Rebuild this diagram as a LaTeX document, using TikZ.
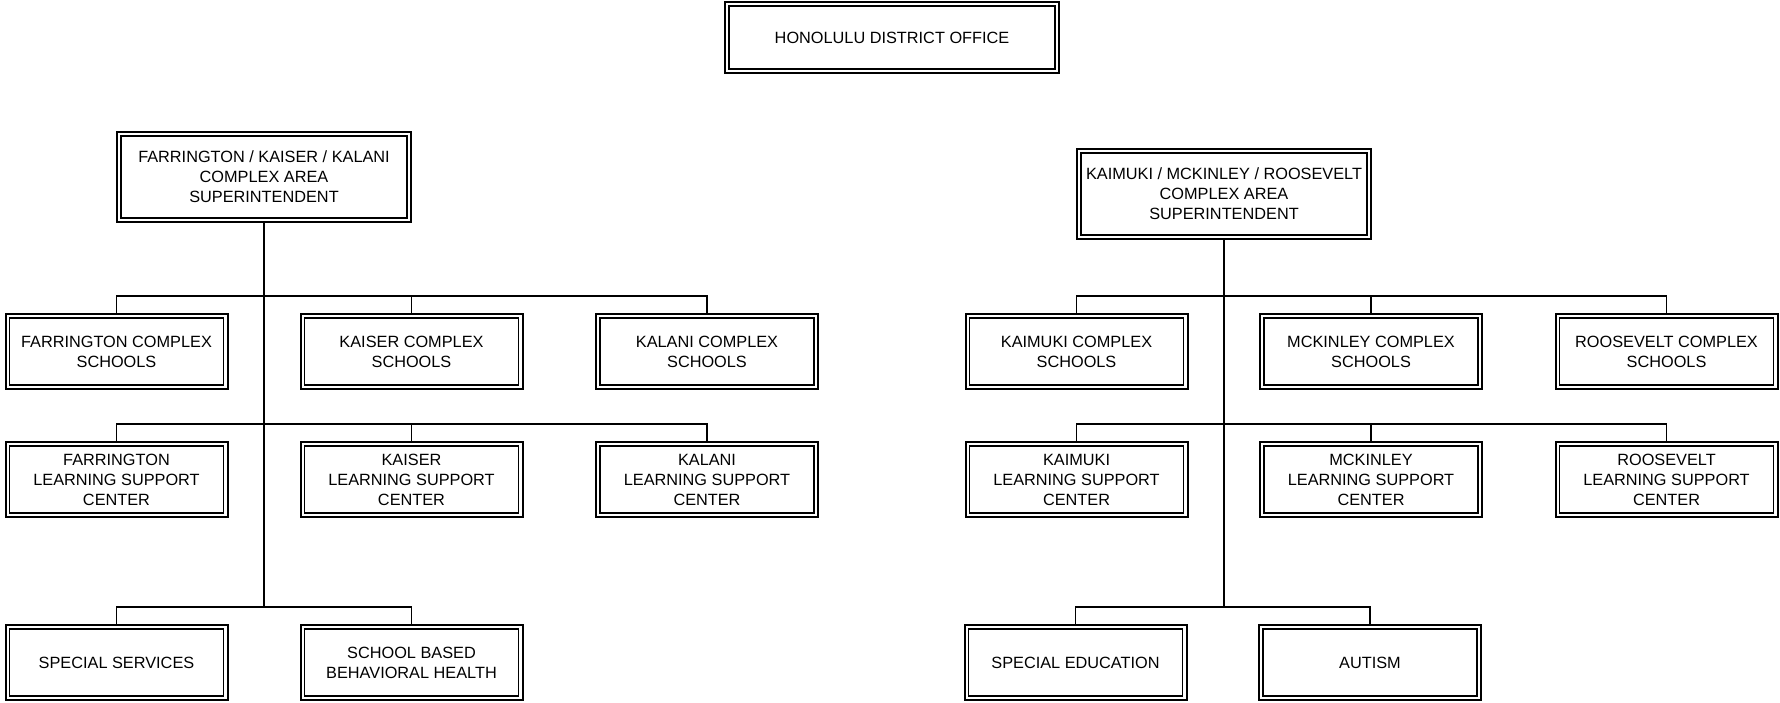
\documentclass[tikz,border=0pt]{standalone}
\usepackage{fontspec}
\setmainfont{Liberation Sans}
\usepackage{tikz}
\usetikzlibrary{positioning,calc}
\tikzset{
unit/.style={rectangle,draw=black,line width=1pt,
minimum width=111pt,minimum height=37.5pt,inner sep=2pt,
align=center,font=\fontsize{8.15}{10}\selectfont,
path picture={\draw[line width=0.55pt]
([shift={(2pt,-2pt)}]path picture bounding box.north west) rectangle
([shift={(-2pt,2pt)}]path picture bounding box.south east);}},
head/.style={unit,minimum width=147pt,minimum height=45pt},
link/.style={line width=0.8pt}
}
\begin{document}
\begin{tikzpicture}[x=0.5pt,y=0.5pt]
\useasboundingbox (0,0) rectangle (1780,-702);

		\node[unit,minimum width=167pt,minimum height=35.5pt] (hdo) at (892,-37.5) {HONOLULU DISTRICT OFFICE};

		% Farrington / Kaiser / Kalani
		\node[head] (fkk) at (264,-177) {FARRINGTON / KAISER / KALANI\\COMPLEX AREA\\SUPERINTENDENT};
		\node[unit] (farcs) at (116.5,-351.5) {FARRINGTON COMPLEX\\SCHOOLS};
		\node[unit] (kaics) at (411.5,-351.5) {KAISER COMPLEX\\SCHOOLS};
		\node[unit] (kalcs) at (707,-351.5) {KALANI COMPLEX\\SCHOOLS};
		\node[unit] (farlsc) at (116.5,-479.5) {FARRINGTON\\LEARNING SUPPORT\\CENTER};
		\node[unit] (kailsc) at (411.5,-479.5) {KAISER\\LEARNING SUPPORT\\CENTER};
		\node[unit] (kallsc) at (707,-479.5) {KALANI\\LEARNING SUPPORT\\CENTER};
		\node[unit] (spsv) at (116.5,-662.5) {SPECIAL SERVICES};
		\node[unit] (sbbh) at (411.5,-662.5) {SCHOOL BASED\\BEHAVIORAL HEALTH};
		\coordinate (fbot) at (264,-608);

		% Kaimuki / McKinley / Roosevelt
		\node[head] (kmr) at (1224,-194) {KAIMUKI / MCKINLEY / ROOSEVELT\\COMPLEX AREA\\SUPERINTENDENT};
		\node[unit] (kimcs) at (1076.5,-351.5) {KAIMUKI COMPLEX\\SCHOOLS};
		\node[unit] (mckcs) at (1371,-351.5) {MCKINLEY COMPLEX\\SCHOOLS};
		\node[unit] (roocs) at (1666.5,-351.5) {ROOSEVELT COMPLEX\\SCHOOLS};
		\node[unit] (kimlsc) at (1076.5,-479.5) {KAIMUKI\\LEARNING SUPPORT\\CENTER};
		\node[unit] (mcklsc) at (1371,-479.5) {MCKINLEY\\LEARNING SUPPORT\\CENTER};
		\node[unit] (roolsc) at (1666.5,-479.5) {ROOSEVELT\\LEARNING SUPPORT\\CENTER};
		\node[unit] (sped) at (1075.5,-662.5) {SPECIAL EDUCATION};
		\node[unit] (autism) at (1370,-662.5) {AUTISM};
		\coordinate (kbot) at (1224,-608);

		\draw[link] (fkk) -- (fbot);
		\draw[link] (farcs.north) -- ++(0,17) -| (kalcs.north);
		\draw[link] (kaics.north) -- ++(0,17);
		\draw[link] (farlsc.north) -- ++(0,17) -| (kallsc.north);
		\draw[link] (kailsc.north) -- ++(0,17);
		\draw[link] (spsv.north) -- ++(0,17) -| (sbbh.north);

		\draw[link] (kmr) -- (kbot);
		\draw[link] (kimcs.north) -- ++(0,17) -| (roocs.north);
		\draw[link] (mckcs.north) -- ++(0,17);
		\draw[link] (kimlsc.north) -- ++(0,17) -| (roolsc.north);
		\draw[link] (mcklsc.north) -- ++(0,17);
		\draw[link] (sped.north) -- ++(0,17) -| (autism.north);

	\end{tikzpicture}
\end{document}
